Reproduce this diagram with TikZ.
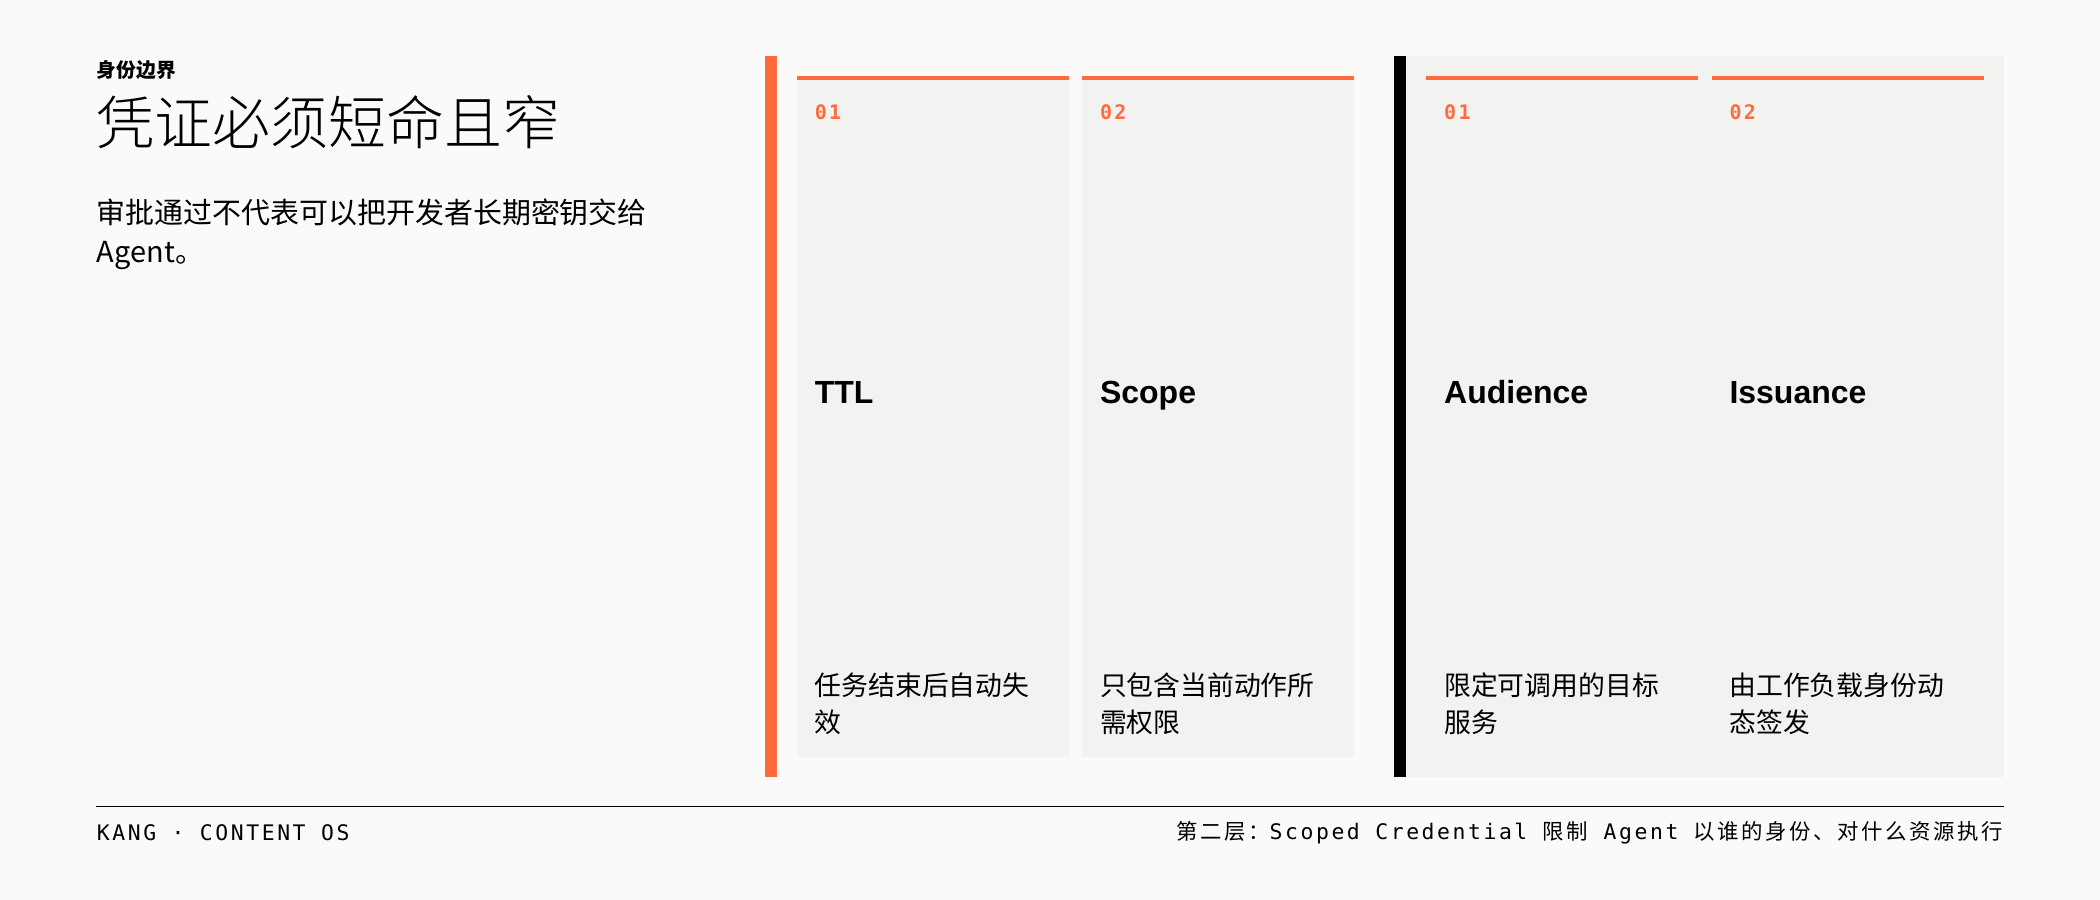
\documentclass[tikz,border=0pt]{standalone}
\usepackage{fontspec}
\setmainfont{Noto Sans CJK SC}
\newfontfamily\cjk{Noto Sans CJK SC}
\newfontfamily\cjklight{Noto Sans CJK SC Light}
\newfontfamily\mono{DejaVu Sans Mono}
\newfontfamily\monowide[LetterSpace=12]{DejaVu Sans Mono}
\newfontfamily\cjkwide[LetterSpace=12]{Noto Sans CJK SC}
\newfontfamily\headsans{Liberation Sans}
\usetikzlibrary{positioning}
\definecolor{bgpaper}{HTML}{FAFAF9}
\definecolor{cardgray}{HTML}{F2F2F1}
\definecolor{accent}{HTML}{FF6B3D}
\tikzstyle{card} = [fill=cardgray,draw=none]
\tikzstyle{topline} = [fill=accent,draw=none]
\tikzstyle{num} = [anchor=west,inner sep=0pt,text=accent,font=\monowide\bfseries\fontsize{8.5}{10}\selectfont]
\tikzstyle{label} = [anchor=base west,inner sep=0pt,font=\headsans\bfseries\fontsize{13.6}{16}\selectfont]
\tikzstyle{desc} = [anchor=north west,inner sep=0pt,align=left,font=\fontsize{11.4}{15.6}\selectfont]
\tikzstyle{foot} = [inner sep=0pt,font=\monowide\fontsize{9.1}{10}\selectfont]
\begin{document}
\begin{tikzpicture}[x=0.02cm,y=-0.02cm]
    % paper
    \fill[bgpaper] (0,0) rectangle (1568,672);
    \useasboundingbox (0,0) rectangle (1568,672);

    % heading
    \node[anchor=west,inner sep=0pt,font=\bfseries\fontsize{8.4}{10}\selectfont] (kicker) at (72,52) {身份边界};
    \node[anchor=west,inner sep=0pt,font=\cjklight\fontsize{24.6}{30}\selectfont] (title) at (72,91) {凭证必须短命且窄};
    \node[anchor=north west,inner sep=0pt,align=left,font=\fontsize{12.3}{16.5}\selectfont] (lead) at (72,148) {审批通过不代表可以把开发者长期密钥交给\\Agent。};

    % group bars and panel
    \fill[accent] (571,42) rectangle (580,580);
    \fill[black] (1041,42) rectangle (1050,580);
    \fill[cardgray] (1050,42) rectangle (1496,580);

    % the four cards
    \foreach \x/\n/\name/\txt in {595/01/TTL/{任务结束后自动失\\效}, 808/02/Scope/{只包含当前动作所\\需权限}, 1065/01/Audience/{限定可调用的目标\\服务}, 1278/02/Issuance/{由工作负载身份动\\态签发}}
    {
        \path[card] (\x,57) rectangle ++(203,508);
        \path[topline] (\x,57) rectangle ++(203,3);
        \node[num] (n-\name) at (\x+13,84) {\n};
        \node[label] (l-\name) at (\x+13,301) {\name};
        \node[desc] (d-\name) at (\x+13,502) {\txt};
    }

    % footer
    \draw[black,line width=0.6pt] (72,602) -- (1496,602);
    \node[foot,anchor=west] (brand) at (72,622) {KANG · CONTENT OS};
    \node[foot,anchor=east] (note) at (1496,622) {{\cjkwide 第二层：}Scoped Credential {\cjkwide 限制} Agent {\cjkwide 以谁的身份、对什么资源执行}};
\end{tikzpicture}
\end{document}
